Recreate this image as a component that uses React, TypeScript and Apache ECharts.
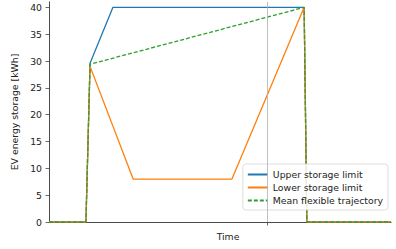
import React, { useEffect, useRef } from "react";
import * as echarts from "echarts";

const upperLimit: [number, number][] = [[0, 0], [10.8, 0], [12, 29.6], [18.7, 40], [74.6, 40], [75.4, 0], [100, 0]];
const lowerLimit: [number, number][] = [[0, 0], [10.8, 0], [12, 29], [24.6, 8], [53.5, 8], [74.6, 40], [75.4, 0], [100, 0]];
const meanTrajectory: [number, number][] = [[0, 0], [10.8, 0], [12, 29.4], [74.6, 40], [75.4, 0], [100, 0]];
const yTicks = [0, 5, 10, 15, 20, 25, 30, 35, 40];
const timeMarker = 63.7;
const seriesNames = ["Upper storage limit", "Lower storage limit", "Mean flexible trajectory"];

const FONT = "DejaVu Sans";
const FS = 9.3;
const AX = "#444";

export default function App() {
  const ref = useRef<HTMLDivElement>(null);
  useEffect(() => {
    if (!ref.current) return;
    const chart = echarts.init(ref.current, undefined, { renderer: "svg" });
    const frameAxis = {
      type: "value",
      min: 0,
      axisLine: { show: true, lineStyle: { color: AX, width: 0.8 } },
      axisTick: { show: false },
      axisLabel: { show: false },
      splitLine: { show: false },
    };
    chart.setOption({
      animation: false,
      textStyle: { fontFamily: FONT },
      grid: { left: 49, right: 5, top: 2, bottom: 27 },
      xAxis: [
        {
          type: "value",
          min: 0,
          max: 100,
          position: "bottom",
          name: "Time",
          nameLocation: "middle",
          nameGap: 10,
          nameTextStyle: { fontSize: FS, color: "#222", fontFamily: FONT, padding: [0, 0, 0, 16] },
          axisLine: { show: true, lineStyle: { color: AX, width: 0.8 } },
          axisTick: { show: true, length: 3.5, customValues: [timeMarker], lineStyle: { color: AX, width: 0.8 } },
          axisLabel: { show: false },
          splitLine: { show: false },
        },
        { ...frameAxis, max: 100, position: "top" },
      ],
      yAxis: [
        {
          type: "value",
          min: 0,
          max: 41,
          position: "left",
          name: "EV energy storage [kWh]",
          nameLocation: "middle",
          nameGap: 27,
          nameTextStyle: { fontSize: FS, color: "#222", fontFamily: FONT },
          axisLine: { show: true, lineStyle: { color: AX, width: 0.8 } },
          axisTick: { show: true, length: 3.5, customValues: yTicks, lineStyle: { color: AX, width: 0.8 } },
          axisLabel: { customValues: yTicks, fontSize: FS, color: "#222", margin: 7, fontFamily: FONT },
          splitLine: { show: false },
        },
        { ...frameAxis, max: 41, position: "right" },
      ],
      legend: {
        orient: "vertical",
        right: 8,
        bottom: 39,
        itemWidth: 20,
        itemHeight: 10,
        itemGap: 4,
        padding: [6, 5, 5, 4],
        backgroundColor: "rgba(255,255,255,0.85)",
        borderColor: "#d5d5d5",
        borderWidth: 0.8,
        borderRadius: 3,
        itemStyle: { opacity: 0 },
        textStyle: { fontSize: FS, color: "#222", fontFamily: FONT },
        data: seriesNames,
      },
      series: [
        {
          name: seriesNames[0],
          type: "line",
          data: upperLimit,
          symbol: "none",
          lineStyle: { color: "#1f77b4", width: 1.3 },
          itemStyle: { color: "#1f77b4" },
          markLine: {
            silent: true,
            symbol: "none",
            label: { show: false },
            lineStyle: { color: "#b0b0b0", width: 0.8, type: "solid" },
            data: [{ xAxis: timeMarker }],
          },
        },
        {
          name: seriesNames[1],
          type: "line",
          data: lowerLimit,
          symbol: "none",
          lineStyle: { color: "#ff7f0e", width: 1.3 },
          itemStyle: { color: "#ff7f0e" },
        },
        {
          name: seriesNames[2],
          type: "line",
          data: meanTrajectory,
          symbol: "none",
          lineStyle: { color: "#2ca02c", width: 1.3, type: [4, 2] },
          itemStyle: { color: "#2ca02c" },
        },
      ],
    });
    return () => chart.dispose();
  }, []);
  return <div ref={ref} style={{ position: "fixed", left: 0, top: 0, width: 396, height: 249, background: "#fff" }} />;
}
